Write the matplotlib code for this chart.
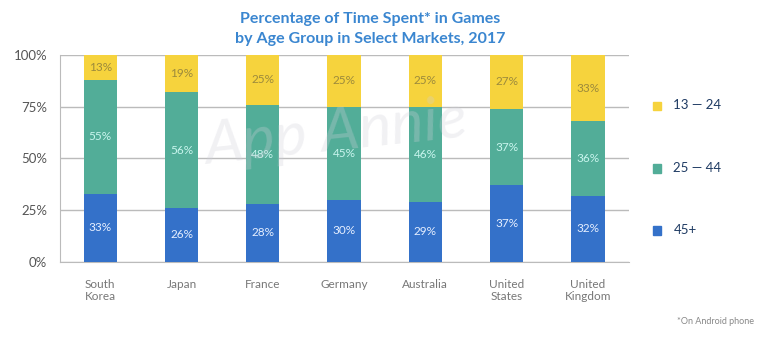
import matplotlib
matplotlib.use("Agg")
import matplotlib.pyplot as plt
import numpy as np

markets = ["South\nKorea", "Japan", "France", "Germany", "Australia", "United\nStates", "United\nKingdom"]
age_45 = [33, 26, 28, 30, 29, 37, 32]
age_25_44 = [55, 56, 48, 45, 46, 37, 36]
age_13_24 = [13, 19, 25, 25, 25, 27, 33]
series_names = ["13 \u2014 24", "25 \u2014 44", "45+"]

plt.rcParams['font.family'] = ['Lato', 'DejaVu Sans']

c_blue = "#3471c9"
c_green = "#52ad98"
c_yellow = "#f6d33d"

fig = plt.figure(figsize=(7.75, 3.37), dpi=100)
ax = fig.add_axes([0.077, 0.223, 0.734, 0.614])

x = np.arange(len(markets))
w = 0.41
ax.bar(x, age_45, w, color=c_blue, zorder=3)
ax.bar(x, age_25_44, w, bottom=age_45, color=c_green, zorder=3)
bot3 = np.array(age_45) + np.array(age_25_44)
ax.bar(x, age_13_24, w, bottom=bot3, color=c_yellow, zorder=3)

for i in range(len(markets)):
    ax.text(x[i], age_45[i] / 2, f"{age_45[i]}%", ha="center", va="center",
            color="#e6efff", fontsize=8.5, zorder=4)
    ax.text(x[i], age_45[i] + age_25_44[i] / 2, f"{age_25_44[i]}%", ha="center", va="center",
            color="#c9f5ee", fontsize=8.5, zorder=4)
    top = min(bot3[i] + age_13_24[i], 100)
    ax.text(x[i], (bot3[i] + top) / 2, f"{age_13_24[i]}%", ha="center", va="center",
            color="#9c8a3c", fontsize=8.5, zorder=4)

ax.set_ylim(0, 100)
ax.set_xlim(-0.5, 6.5)
ax.set_yticks([0, 25, 50, 75, 100])
ax.set_yticklabels(["0%", "25%", "50%", "75%", "100%"], color="#555555", fontsize=9.5)
ax.set_xticks(x)
ax.set_xticklabels(markets, color="#777777", fontsize=8.5)
ax.tick_params(length=0, pad=9)
ax.tick_params(axis="x", pad=12)
ax.grid(axis="y", color="#bbbbbb", linewidth=1, zorder=0)
for s in ["top", "right"]:
    ax.spines[s].set_visible(False)
ax.spines["left"].set_color("#bbbbbb")
ax.spines["bottom"].set_color("#bbbbbb")

# watermark
ax.text(2.9, 62, "App Annie", ha="center", va="center", fontsize=44, style="italic",
        color="#d0d0da", alpha=0.3, rotation=6, zorder=5)

fig.text(0.478, 0.945, "Percentage of Time Spent* in Games", ha="center", va="center",
         color="#3a86d0", fontsize=11.5, fontweight="bold")
fig.text(0.478, 0.883, "by Age Group in Select Markets, 2017", ha="center", va="center",
         color="#3a86d0", fontsize=11.5, fontweight="bold")

# legend
leg_y = [0.688, 0.502, 0.318]
leg_c = [c_yellow, c_green, c_blue]
for yy, cc, nm in zip(leg_y, leg_c, series_names):
    fig.patches.append(plt.Rectangle((0.842, yy - 0.014), 0.0105, 0.024, color=cc,
                                     transform=fig.transFigure, figure=fig))
    fig.text(0.869, yy, nm, ha="left", va="center", color="#1f3b63", fontsize=9.5)

fig.text(0.973, 0.045, "*On Android phone", ha="right", va="center", color="#888888", fontsize=6.5)

fig.savefig("out.png", dpi=100)
